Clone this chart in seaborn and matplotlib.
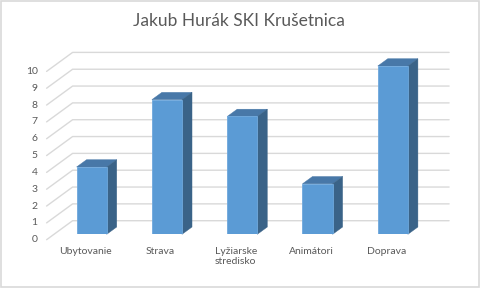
import matplotlib
matplotlib.use("Agg")
import matplotlib.pyplot as plt
import seaborn as sns
import pandas as pd
import numpy as np
from matplotlib.patches import Polygon, Rectangle
from matplotlib.lines import Line2D
from matplotlib.transforms import IdentityTransform, ScaledTranslation

title = "Jakub Hurák SKI Krušetnica"
categories = ["Ubytovanie", "Strava", "Lyžiarske\nstredisko", "Animátori", "Doprava"]
values = [4, 8, 7, 3, 10]
yticks = [0, 1, 2, 3, 4, 5, 6, 7, 8, 9, 10]

FRONT = "#5B9BD5"
TOP = "#4878A8"
SIDE = "#3A6388"
GRID = "#D9D9D9"
TXT = "#595959"
FONT = ["Lato", "DejaVu Sans"]

sns.set_theme(style="white")
plt.rcParams["font.family"] = FONT

W, H = 480, 288
fig = plt.figure(figsize=(W / 100, H / 100), dpi=100)

# axes: value 0 at pixel y=234.3, value 10 at y=66 ; x from 54 to 430.5
x0, x1 = 54.0, 430.5
y0, y1 = 234.3, 66.0
ax = fig.add_axes([x0 / W, (H - y0) / H, (x1 - x0) / W, (y0 - y1) / H])

df = pd.DataFrame({"cat": categories, "val": values})
sns.barplot(data=df, x="cat", y="val", color=FRONT, saturation=1, width=0.4,
            edgecolor="#6FA8DC", linewidth=0.6, ax=ax, zorder=3)
ax.set_xlim(-0.5, len(categories) - 0.5)
ax.set_ylim(0, yticks[-1])
for s in ax.spines.values():
    s.set_visible(False)
ax.set_xlabel("")
ax.set_ylabel("")
ax.set_yticks([])
ax.tick_params(axis="x", length=0, pad=9)
ax.set_xticks(range(len(categories)))
ax.set_xticklabels(categories, fontsize=7.5, color=TXT, ha="center", va="top")
for lab in ax.get_xticklabels():
    if "\n" in lab.get_text():
        lab.set_multialignment("left")
    lab.set_transform(lab.get_transform() + ScaledTranslation(-0.065, 0, fig.dpi_scale_trans))
    lab.set_linespacing(1.1)

fig.canvas.draw()
tD = ax.transData
ident = IdentityTransform()

# floor/wall depth offsets (display px, y-up)
front_off = np.array([-7.4, -5.4])
back_off = np.array([18.6, 13.6])
bar_depth = np.array([10.0, 7.3])

# gridlines + y tick labels
for v in yticks:
    pl = tD.transform((-0.5, v))
    pr = tD.transform((len(categories) - 0.5, v))
    f = pl + front_off
    b = pl + back_off
    e = pr + back_off
    ax.add_line(Line2D([f[0], b[0], e[0]], [f[1], b[1], e[1]], transform=ident,
                       color=GRID, lw=1.0, clip_on=False, zorder=1))
    fig.text((f[0] - 9) / W, f[1] / H, str(v), ha="right", va="center",
             fontsize=7.5, color=TXT)

# 3D faces of bars
for p in ax.patches:
    bb = p.get_bbox()
    (xl, yb), (xr, yt) = tD.transform([(bb.x0, bb.y0), (bb.x1, bb.y1)])
    top = [(xl, yt), (xr, yt), (xr + bar_depth[0], yt + bar_depth[1]), (xl + bar_depth[0], yt + bar_depth[1])]
    side = [(xr, yb), (xr, yt), (xr + bar_depth[0], yt + bar_depth[1]), (xr + bar_depth[0], yb + bar_depth[1])]
    ax.add_patch(Polygon(top, closed=True, transform=ident, facecolor=TOP,
                         edgecolor=TOP, lw=0.3, clip_on=False, zorder=2))
    ax.add_patch(Polygon(side, closed=True, transform=ident, facecolor=SIDE,
                         edgecolor=SIDE, lw=0.3, clip_on=False, zorder=2))

fig.text(239 / W, 1 - 21.5 / H, title, ha="center", va="center", fontsize=12.5, color=TXT)

fig.patches.append(Rectangle((0.5 / W, 1.5 / H), (W - 1.5) / W, (H - 2.5) / H,
                             transform=fig.transFigure, fill=False, edgecolor=GRID, lw=1.2))

fig.savefig("out.png", dpi=100, facecolor="white")
